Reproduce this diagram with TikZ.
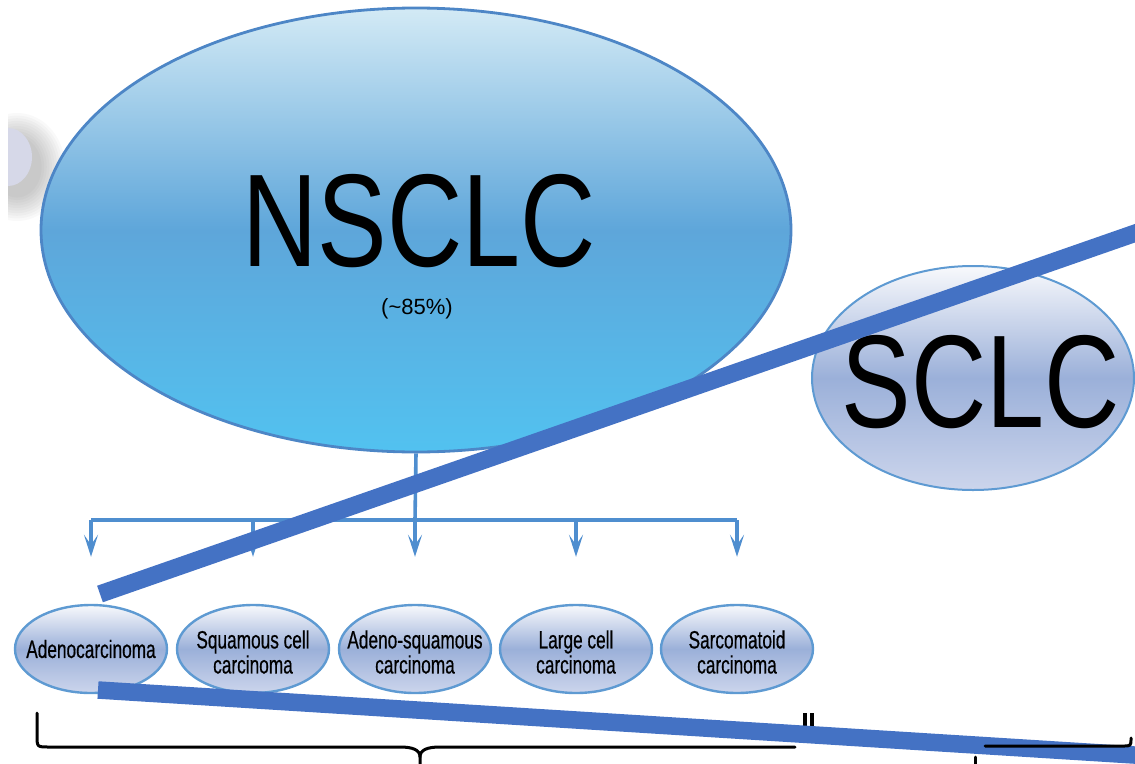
\documentclass[tikz,border=0pt]{standalone}
\usepackage{fontspec}
\setmainfont{Liberation Sans}
\newfontfamily\bigfont[FakeStretch=0.79]{Liberation Sans}
\newfontfamily\smallfont[FakeStretch=0.69,FakeBold=0.5]{Liberation Sans}
\usetikzlibrary{shapes.geometric,arrows.meta,calc}
\definecolor{nsTop}{HTML}{D3EAF5}
\definecolor{nsMid}{HTML}{5EA6DA}
\definecolor{nsBot}{HTML}{52C2F0}
\definecolor{nsBorder}{HTML}{4D86C6}
\definecolor{lavTop}{HTML}{F8F9FC}
\definecolor{lavMid}{HTML}{9BB0D9}
\definecolor{lavBot}{HTML}{CCD5EC}
\definecolor{lavBorder}{HTML}{5E9AD2}
\definecolor{treeBlue}{HTML}{4F8ECF}
\definecolor{strikeBlue}{HTML}{4472C4}
\definecolor{tabGrey}{HTML}{D6D8E8}
\begin{document}
\begin{tikzpicture}[x=1pt,y=-1pt,
  bigell/.style={ellipse, draw=nsBorder, line width=2.8pt, minimum width=750pt, minimum height=444pt, inner sep=0pt,
    top color=nsTop, bottom color=nsBot, middle color=nsMid},
  sclcell/.style={ellipse, draw=lavBorder, line width=2pt, minimum width=322pt, minimum height=224pt, inner sep=0pt,
    top color=lavTop, bottom color=lavBot, middle color=lavMid},
  smallell/.style={ellipse, draw=lavBorder, line width=2.4pt, minimum width=152pt, minimum height=88pt, inner sep=0pt,
    top color=lavTop, bottom color=lavBot, middle color=lavMid},
  smalltxt/.style={font=\smallfont\fontsize{25}{25}\selectfont, align=center, inner sep=0pt, text=black},
  bigtxt/.style={font=\bigfont\fontsize{132}{132}\selectfont, anchor=base, inner sep=0pt},
  tree/.style={draw=treeBlue, line width=3.6pt},
  treearrow/.style={tree, -{Stealth[length=22pt,width=14pt,inset=10pt]}},
  brace/.style={draw=black, line width=3pt, line cap=round, line join=round},
  strike/.style={draw=strikeBlue, line width=17.5pt}
]
\useasboundingbox (0,0) rectangle (1135,763);
\clip (0,0) rectangle (1135,763);

% small grey tab with soft shadow at the left edge
\begin{scope}
  \clip (8,95) rectangle (120,240);
  \foreach \i in {1,...,10}
    \fill[black, opacity=0.024] (17,167) ellipse [x radius={22+2.6*\i}, y radius={28+2.6*\i}];
  \fill[tabGrey] (8,157) ellipse [x radius=24, y radius=29];
\end{scope}

% NSCLC
\node[bigell] (nsclc) at (416,230) {};
\node[bigtxt] (nsclcT) at (419,266) {NSCLC};
\node[font=\fontsize{22}{22}\selectfont, anchor=base, inner sep=0pt] (pct) at (417,314) {(\textasciitilde85\%)};

% SCLC
\node[sclcell] (sclc) at (973,378) {};
\node[bigtxt] (sclcT) at (981,427) {SCLC};

% subtype ellipses
\node[smallell] (a) at (91,649) {};
\node[smallell] (b) at (253,649) {};
\node[smallell] (c) at (415,649) {};
\node[smallell] (d) at (576,649) {};
\node[smallell] (e) at (737,649) {};
\node[smalltxt] (aT) at (91,649) {Adenocarcinoma};
\node[smalltxt] (bT) at (253,652) {Squamous cell\\carcinoma};
\node[smalltxt] (cT) at (415,652) {Adeno-squamous\\carcinoma};
\node[smalltxt] (dT) at (576,652) {Large cell\\carcinoma};
\node[smalltxt] (eT) at (737,652) {Sarcomatoid\\carcinoma};

% tree connectors
\coordinate (bar) at (415,520);
\draw[tree] (nsclc.south) -- (bar);
\draw[tree] (bar -| a) -- (bar -| e);
\foreach \n in {a,b,c,d,e}
  \draw[treearrow] (bar -| \n) -- ([yshift=47pt]\n.north);

% braces (under the strike band)
\coordinate (lb) at (37,713);
\draw[brace] (lb) -- (37,735) .. controls (37,747) .. (49,747) -- (400,747)
  .. controls (413,747) and (420,750) .. (420,757) -- (420,765);
\draw[brace] (420,757) .. controls (420,750) and (427,747) .. (440,747) -- (795,747);
\draw[brace] (975,757) -- (975,765);

% double bar
\draw[black, line width=3.5pt] (805,713) -- (805,736);
\draw[black, line width=3.5pt] (812,713) -- (812,736);

% strike-through lines
\coordinate (s1a) at (100,594);
\coordinate (s1b) at (1150,228);
\coordinate (s2a) at (98,690);
\coordinate (s2b) at (1150,756);
\draw[strike] (s1a) -- (s1b);
\draw[strike] (s2a) -- (s2b);

% visible right part of the right brace
\draw[brace] (985,746) -- (1123,746) .. controls (1131,746) .. (1131,738);
\end{tikzpicture}
\end{document}
